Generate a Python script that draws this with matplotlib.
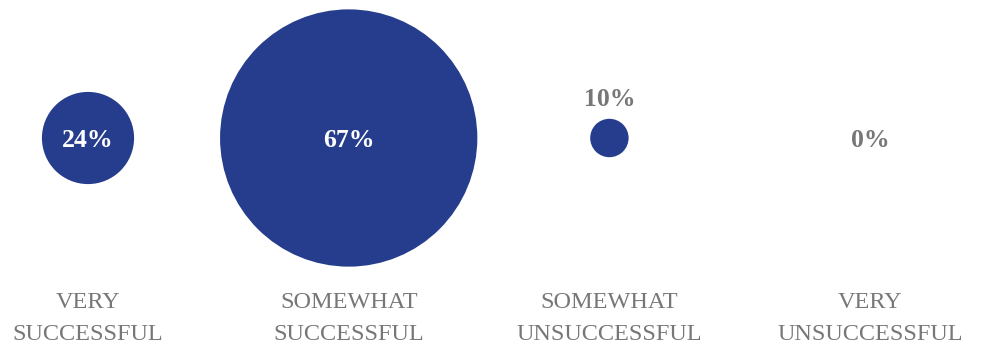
import matplotlib.pyplot as plt
from matplotlib.patches import Circle

categories = ['VERY\nSUCCESSFUL', 'SOMEWHAT\nSUCCESSFUL', 'SOMEWHAT\nUNSUCCESSFUL', 'VERY\nUNSUCCESSFUL']
values = [24, 67, 10, 0]

plt.rcParams['font.family'] = ['Liberation Serif', 'DejaVu Serif']

fig = plt.figure(figsize=(9.82, 3.47), dpi=100)
ax = fig.add_axes([0, 0, 1, 1])
ax.set_xlim(0, 982)
ax.set_ylim(347, 0)
ax.set_aspect('equal')
ax.axis('off')

blue = '#253d8c'
gray = '#777777'
cy = 138
scale = 1.92  # radius in px per percent point

for i, (cat, val) in enumerate(zip(categories, values)):
    cx = 88 + i * 260.7
    r = val * scale
    if r > 0:
        ax.add_patch(Circle((cx, cy), r, color=blue, lw=0))
    if r > 30:
        ax.text(cx, cy + 2, f'{val}%', color='white', ha='center', va='center',
                fontsize=18.5, fontweight='bold')
    elif r > 0:
        ax.text(cx, cy - r - 19, f'{val}%', color=gray, ha='center', va='center',
                fontsize=18.5, fontweight='bold')
    else:
        ax.text(cx, cy + 2, f'{val}%', color=gray, ha='center', va='center',
                fontsize=18.5, fontweight='bold')
    top, bottom = cat.split('\n')
    ax.text(cx, 303, top, color=gray, ha='center', va='center', fontsize=17.5)
    ax.text(cx, 335, bottom, color=gray, ha='center', va='center', fontsize=17.5)

fig.savefig('out.png', dpi=100)
